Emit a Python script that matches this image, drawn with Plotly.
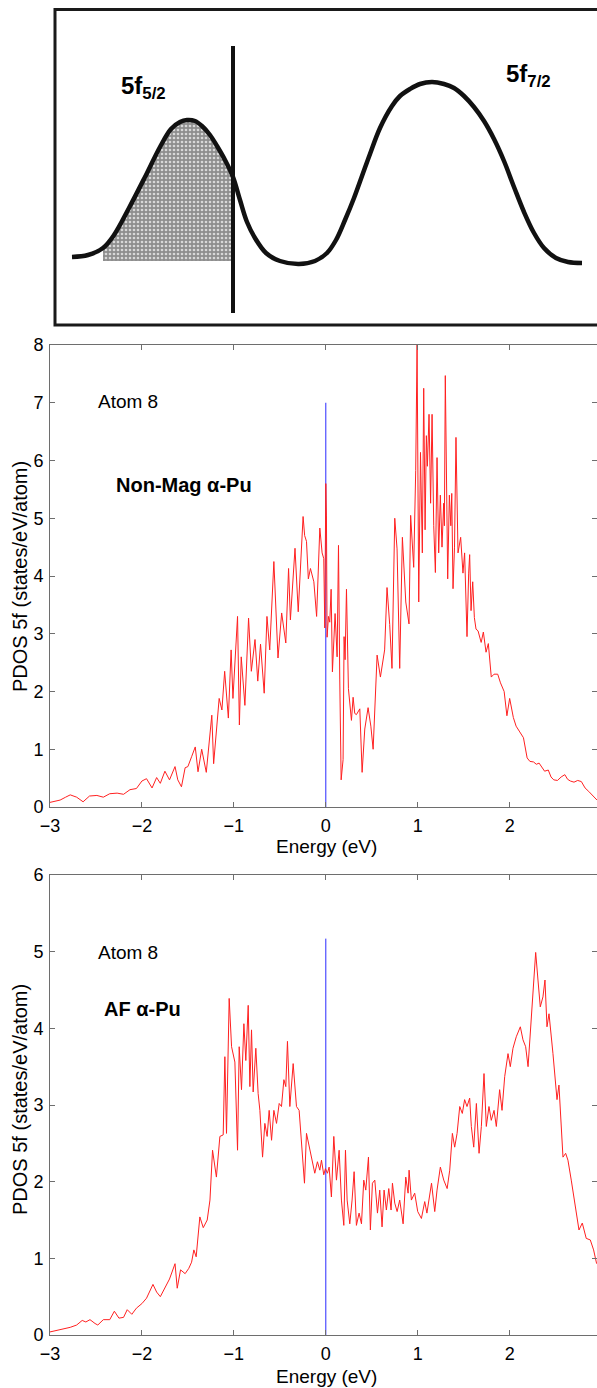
import plotly.graph_objects as go

W, H = 597, 1388
FONT = "Liberation Sans, Arial, sans-serif"

# ---------------- Schematic (top panel), in panel units ----------------
schem_x = [72, 88, 103, 114, 129, 145, 160, 171, 180, 187, 195, 202, 210, 217, 225, 233,
           240, 247, 255, 266, 280, 299, 315, 327, 336, 345, 354, 362, 370, 380, 392, 400,
           410, 420, 432, 444, 454, 464, 474, 484, 494, 504, 514, 524, 534, 544, 556, 568, 582]
schem_y = [257, 255, 248, 235, 208, 177, 147, 129, 122, 120, 121, 126, 135, 146, 160, 177,
           200, 222, 238, 253, 261, 264, 261, 253, 240, 220, 198, 176, 154, 128, 106, 96,
           89, 84, 82, 84, 88, 96, 107, 121, 139, 161, 187, 212, 233, 248, 258, 262, 263]
fermi_schem = 233
fermi_schem_y = [46, 313]
shade_left, shade_base = 103, 261

# ---------------- Non-magnetic alpha-Pu, atom 8 ----------------
nm_energy = [-3.00, -2.94, -2.89, -2.83, -2.78, -2.71, -2.64, -2.57, -2.49, -2.42, -2.35, -2.27,
             -2.20, -2.13, -2.06, -2.00, -1.95, -1.89, -1.84, -1.80, -1.75, -1.70, -1.64, -1.61,
             -1.57, -1.53, -1.50, -1.46, -1.42, -1.39, -1.35, -1.30, -1.24, -1.22, -1.16, -1.13,
             -1.10, -1.06, -1.03, -1.01, -0.96, -0.94, -0.92, -0.88, -0.84, -0.81, -0.77, -0.74,
             -0.71, -0.67, -0.64, -0.61, -0.565, -0.52, -0.48, -0.435, -0.405, -0.385, -0.335,
             -0.30, -0.27, -0.247, -0.23, -0.21, -0.19, -0.167, -0.13, -0.10, -0.065, -0.04,
             -0.022, -0.011, 0.0, 0.007, 0.014, 0.029, 0.043, 0.058, 0.072, 0.088, 0.101, 0.123,
             0.138, 0.152, 0.167, 0.188, 0.199, 0.21, 0.225, 0.246, 0.279, 0.297, 0.315, 0.333,
             0.37, 0.395, 0.424, 0.46, 0.49, 0.515, 0.558, 0.594, 0.64, 0.666, 0.695, 0.72, 0.75,
             0.775, 0.804, 0.833, 0.87, 0.905, 0.923, 0.956, 0.978, 0.993, 1.011, 1.03, 1.05,
             1.065, 1.08, 1.094, 1.105, 1.123, 1.14, 1.156, 1.174, 1.192, 1.21, 1.228, 1.246,
             1.264, 1.282, 1.29, 1.30, 1.326, 1.344, 1.36, 1.37, 1.384, 1.40, 1.416, 1.438,
             1.467, 1.492, 1.51, 1.536, 1.554, 1.565, 1.58, 1.598, 1.616, 1.634, 1.656, 1.69,
             1.714, 1.743, 1.768, 1.80, 1.83, 1.87, 1.90, 1.94, 1.97, 2.00, 2.04, 2.07, 2.11,
             2.15, 2.19, 2.22, 2.26, 2.29, 2.32, 2.35, 2.38, 2.42, 2.45, 2.48, 2.52, 2.56, 2.60,
             2.63, 2.66, 2.70, 2.74, 2.78, 2.82, 2.86, 2.90, 2.95]
nm_pdos = [0.08, 0.10, 0.12, 0.17, 0.21, 0.17, 0.09, 0.19, 0.20, 0.17, 0.23, 0.24,
           0.22, 0.30, 0.32, 0.45, 0.49, 0.33, 0.51, 0.41, 0.62, 0.47, 0.70, 0.47,
           0.35, 0.68, 0.70, 0.87, 1.04, 0.61, 1.00, 0.60, 1.59, 0.75, 1.88, 1.68,
           2.35, 1.54, 2.72, 1.88, 3.30, 1.42, 2.60, 1.76, 3.27, 2.35, 2.90, 2.18,
           2.82, 1.97, 3.30, 2.72, 4.25, 2.58, 3.36, 2.84, 4.13, 3.24, 4.48,
           3.38, 4.30, 5.03, 4.70, 4.60, 3.95, 4.13, 3.90, 3.30, 4.83, 4.40,
           4.30, 3.10, 5.60, 5.04, 2.94, 3.30, 3.20, 3.77, 2.34, 3.00, 3.35, 2.60,
           4.53, 2.20, 0.47, 0.82, 2.95, 2.55, 3.77, 2.05, 1.50, 1.90, 1.62, 1.60,
           1.70, 0.60, 1.35, 1.72, 1.40, 1.00, 2.63, 2.25, 2.72, 3.80, 3.16, 2.40, 5.00,
           4.47, 2.40, 4.67, 3.55, 3.17, 5.05, 4.15, 5.83, 8.00, 3.55, 6.14, 4.40,
           7.25, 4.80, 6.43, 5.90, 6.80, 5.26, 6.80, 4.87, 4.06, 6.05, 4.40, 5.40,
           4.50, 5.26, 4.87, 7.47, 3.95, 5.40, 4.87, 5.43, 3.78, 4.50, 6.40, 4.40,
           4.67, 4.05, 4.40, 2.95, 4.05, 4.37, 3.40, 3.90, 3.28, 3.08, 3.05, 2.85,
           3.03, 2.68, 2.83, 2.25, 2.30, 2.30, 2.15, 2.00, 1.58, 1.88, 1.55, 1.40, 1.30,
           1.20, 0.85, 0.79, 0.78, 0.74, 0.76, 0.68, 0.62, 0.64, 0.52, 0.47, 0.46, 0.52, 0.56,
           0.48, 0.45, 0.43, 0.46, 0.44, 0.33, 0.27, 0.20, 0.12]

# ---------------- Antiferromagnetic alpha-Pu, atom 8 ----------------
af_energy = [-3.00, -2.93, -2.86, -2.78, -2.71, -2.65, -2.61, -2.565, -2.51, -2.48, -2.42, -2.35,
             -2.30, -2.25, -2.20, -2.16, -2.11, -2.06, -2.00, -1.95, -1.88, -1.84, -1.80, -1.75,
             -1.70, -1.64, -1.616, -1.58, -1.53, -1.49, -1.46, -1.435, -1.41, -1.37, -1.333,
             -1.29, -1.26, -1.232, -1.19, -1.152, -1.116, -1.098, -1.08, -1.051, -1.025, -0.989,
             -0.96, -0.942, -0.917, -0.891, -0.87, -0.844, -0.826, -0.808, -0.79, -0.761, -0.736,
             -0.717, -0.688, -0.663, -0.638, -0.616, -0.59, -0.565, -0.536, -0.507, -0.482,
             -0.456, -0.435, -0.417, -0.391, -0.355, -0.319, -0.29, -0.261, -0.232, -0.21,
             -0.181, -0.145, -0.12, -0.091, -0.065, -0.047, -0.022, -0.004, 0.018, 0.036, 0.061,
             0.087, 0.116, 0.145, 0.17, 0.196, 0.214, 0.232, 0.261, 0.286, 0.308, 0.333, 0.362,
             0.388, 0.413, 0.435, 0.464, 0.485, 0.507, 0.533, 0.562, 0.587, 0.612, 0.634, 0.659,
             0.685, 0.71, 0.725, 0.75, 0.776, 0.804, 0.841, 0.87, 0.895, 0.906, 0.931, 0.967,
             1.0, 1.04, 1.076, 1.1, 1.15, 1.185, 1.21, 1.246, 1.283, 1.32, 1.348, 1.377, 1.402,
             1.428, 1.457, 1.485, 1.51, 1.536, 1.565, 1.583, 1.609, 1.638, 1.667, 1.692, 1.721,
             1.746, 1.775, 1.80, 1.83, 1.855, 1.891, 1.917, 1.946, 1.964, 1.982, 2.007, 2.036,
             2.072, 2.116, 2.145, 2.174, 2.20, 2.225, 2.254, 2.283, 2.308, 2.333, 2.362, 2.384,
             2.406, 2.428, 2.471, 2.50, 2.515, 2.536, 2.562, 2.58, 2.609, 2.634, 2.67, 2.707,
             2.754, 2.79, 2.833, 2.877, 2.913, 2.946]
af_pdos = [0.04, 0.06, 0.07, 0.10, 0.13, 0.19, 0.17, 0.20, 0.15, 0.13, 0.20, 0.20,
           0.31, 0.22, 0.23, 0.33, 0.27, 0.35, 0.41, 0.48, 0.66, 0.56, 0.50, 0.62,
           0.73, 0.93, 0.61, 0.85, 0.80, 0.87, 0.95, 1.11, 1.02, 1.54, 1.40,
           1.50, 1.76, 2.41, 2.06, 2.59, 2.61, 3.63, 2.63, 4.39, 3.76, 3.56,
           2.41, 3.76, 3.20, 4.06, 3.58, 4.30, 3.24, 3.98, 3.17, 3.74, 3.15,
           2.93, 2.32, 2.76, 2.59, 2.93, 2.54, 2.93, 2.76, 3.02, 2.98,
           3.33, 3.24, 3.83, 2.98, 3.54, 2.98, 2.93, 2.50, 1.98, 2.63,
           2.45, 2.22, 2.11, 2.26, 2.15, 2.28, 2.09, 2.17, 2.11, 2.19, 1.80,
           2.59, 2.02, 2.41, 1.76, 1.43, 2.41, 1.76, 1.45, 1.76, 2.13, 1.43, 1.59,
           1.45, 2.02, 1.89, 2.32, 1.37, 1.98, 2.02, 1.59, 1.89, 1.41, 1.89, 1.63,
           1.91, 1.63, 1.98, 1.72, 1.61, 1.76, 1.45, 2.06, 1.85, 2.15, 1.76, 1.85,
           1.61, 1.52, 1.74, 1.59, 1.98, 1.61, 1.89, 2.19, 2.02, 1.91, 2.15, 2.63, 2.45,
           2.63, 2.98, 2.89, 3.07, 2.98, 3.09, 2.72, 2.45, 3.02, 2.37, 2.72, 3.41,
           2.72, 2.98, 2.80, 2.93, 2.72, 3.20, 2.93, 3.37, 3.50, 3.67, 3.50, 3.74,
           3.89, 4.02, 3.85, 3.76, 3.50, 3.93, 4.41, 4.99, 4.63, 4.28, 4.41, 4.63,
           4.02, 4.19, 3.67, 3.24, 3.07, 3.26, 2.63, 2.32, 2.37, 2.28, 2.02, 1.72,
           1.37, 1.46, 1.26, 1.24, 1.11, 0.93]

fermi_top_nm = 7.0
fermi_top_af = 5.17

x_ticks = [-3, -2, -1, 0, 1, 2]
nm_yticks = list(range(0, 9))
af_yticks = list(range(0, 7))


def py(px):
    """pixel row -> paper y"""
    return 1 - px / H


fig = go.Figure()

# ---- top schematic ----
sh_x = [x for x in schem_x if shade_left <= x <= fermi_schem]
sh_y = [y for x, y in zip(schem_x, schem_y) if shade_left <= x <= fermi_schem]
sh_x = sh_x + [fermi_schem, shade_left]
sh_y = sh_y + [shade_base, shade_base]
fig.add_trace(go.Scatter(x=sh_x, y=sh_y, mode="lines", line=dict(width=0),
                         fill="toself", fillcolor="#9a9a9a",
                         fillpattern=dict(shape=".", bgcolor="#8e8e8e", fgcolor="#d8d8d8",
                                          size=4, solidity=0.35),
                         xaxis="x3", yaxis="y3", hoverinfo="skip", showlegend=False))
fig.add_trace(go.Scatter(x=schem_x, y=schem_y, mode="lines",
                         line=dict(color="#111111", width=4.5, shape="spline", smoothing=1.0),
                         xaxis="x3", yaxis="y3", showlegend=False))
fig.add_trace(go.Scatter(x=[fermi_schem, fermi_schem], y=fermi_schem_y, mode="lines",
                         line=dict(color="#111111", width=4),
                         xaxis="x3", yaxis="y3", showlegend=False))

# ---- middle: non-magnetic ----
fig.add_trace(go.Scatter(x=[0, 0], y=[0, fermi_top_nm], mode="lines",
                         line=dict(color="#2a2aff", width=1), xaxis="x", yaxis="y",
                         showlegend=False))
fig.add_trace(go.Scatter(x=nm_energy, y=nm_pdos, mode="lines",
                         line=dict(color="#ff2020", width=1), xaxis="x", yaxis="y",
                         showlegend=False))

# ---- bottom: AF ----
fig.add_trace(go.Scatter(x=[0, 0], y=[0, fermi_top_af], mode="lines",
                         line=dict(color="#2a2aff", width=1), xaxis="x2", yaxis="y2",
                         showlegend=False))
fig.add_trace(go.Scatter(x=af_energy, y=af_pdos, mode="lines",
                         line=dict(color="#ff2020", width=1), xaxis="x2", yaxis="y2",
                         showlegend=False))

axis_common = dict(showgrid=False, zeroline=False, showline=True, linecolor="#6e6e6e",
                   linewidth=1, mirror="ticks", ticks="inside", ticklen=5, tickcolor="#6e6e6e",
                   automargin=False,
                   tickfont=dict(family=FONT, size=18, color="black"))

xdom = [50 / W, 1]
fig.update_layout(
    template="none",
    width=W, height=H,
    margin=dict(l=0, r=0, t=0, b=0, pad=0),
    paper_bgcolor="white", plot_bgcolor="white",
    xaxis=dict(domain=xdom, range=[-3, 2.95], tickvals=x_ticks, anchor="y",
               ticklabelstandoff=2, **axis_common),
    yaxis=dict(domain=[py(807), py(345)], range=[0, 8], tickvals=nm_yticks, anchor="x",
               ticklabelstandoff=2, **axis_common),
    xaxis2=dict(domain=xdom, range=[-3, 2.95], tickvals=x_ticks, anchor="y2",
                ticklabelstandoff=2, **axis_common),
    yaxis2=dict(domain=[py(1335), py(875)], range=[0, 6], tickvals=af_yticks, anchor="x2",
                ticklabelstandoff=2, **axis_common),
    xaxis3=dict(domain=[0, 1], range=[0, W], visible=False, anchor="y3", automargin=False),
    yaxis3=dict(domain=[py(335), 1], range=[335, 0], visible=False, anchor="x3",
                automargin=False),
)

# schematic frame
fig.add_shape(type="rect", xref="paper", yref="paper",
              x0=55 / W, x1=1.02, y0=py(325), y1=py(9.5),
              line=dict(color="#1a1a1a", width=3))

ann = []
# schematic labels
ann.append(dict(text="<b>5f<sub>5/2</sub></b>", x=119 / W, y=py(87), xanchor="left",
                yanchor="middle", font=dict(family=FONT, size=24, color="black")))
ann.append(dict(text="<b>5f<sub>7/2</sub></b>", x=504 / W, y=py(75), xanchor="left",
                yanchor="middle", font=dict(family=FONT, size=24, color="black")))
# axis titles
for yc in (577, 1100):
    ann.append(dict(text="PDOS 5f (states/eV/atom)", x=20 / W, y=py(yc), textangle=-90,
                    xanchor="center", yanchor="middle",
                    font=dict(family=FONT, size=20, color="black")))
for yc in (846, 1376):
    ann.append(dict(text="Energy (eV)", x=326.5 / W, y=py(yc), xanchor="center",
                    yanchor="middle", font=dict(family=FONT, size=19, color="black")))
# panel labels
ann.append(dict(text="Atom 8", x=96 / W, y=py(402), xanchor="left", yanchor="middle",
                font=dict(family=FONT, size=19, color="black")))
ann.append(dict(text="<b>Non-Mag α-Pu</b>", x=114 / W, y=py(485), xanchor="left",
                yanchor="middle", font=dict(family=FONT, size=20, color="black")))
ann.append(dict(text="Atom 8", x=96 / W, y=py(952), xanchor="left", yanchor="middle",
                font=dict(family=FONT, size=19, color="black")))
ann.append(dict(text="<b>AF α-Pu</b>", x=102 / W, y=py(1009), xanchor="left",
                yanchor="middle", font=dict(family=FONT, size=20, color="black")))
for a in ann:
    a.update(xref="paper", yref="paper", showarrow=False)
fig.update_layout(annotations=ann)

fig.write_html("out.html")
